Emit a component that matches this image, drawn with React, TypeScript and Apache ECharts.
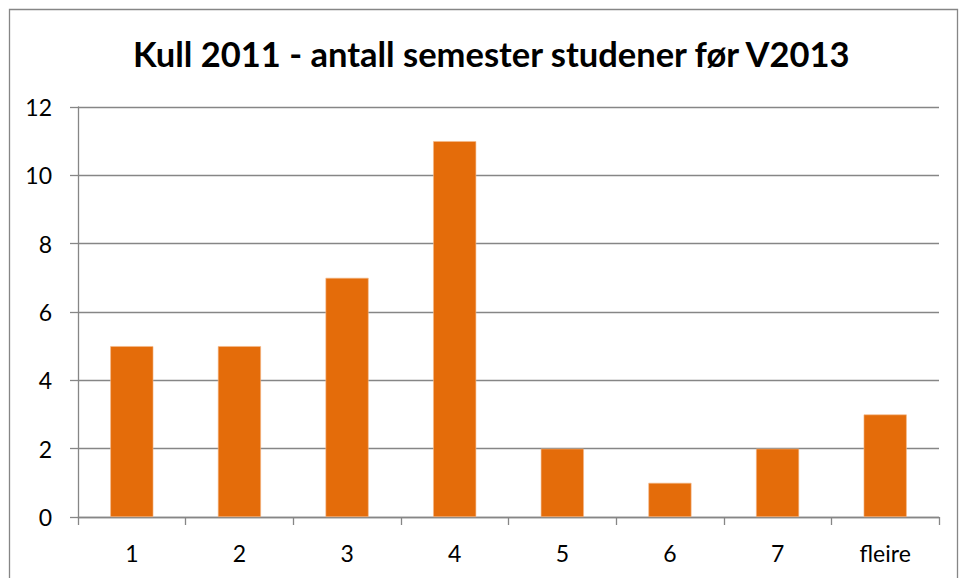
import React, { useEffect, useRef } from "react";
import * as echarts from "echarts";

const categories = ["1", "2", "3", "4", "5", "6", "7", "fleire"];
const values = [5, 5, 7, 11, 2, 1, 2, 3];
const titleText = "Kull 2011 - antall semester studener før V2013";

export default function App() {
  const ref = useRef<HTMLDivElement>(null);
  useEffect(() => {
    document.body.style.margin = "0";
    const chart = echarts.init(ref.current!, undefined, { renderer: "svg" });
    const font = "Lato, 'Open Sans', sans-serif";
    chart.setOption({
      animation: false,
      backgroundColor: "#ffffff",
      title: {
        text: titleText,
        left: 128,
        top: 31,
        textStyle: { fontFamily: font, fontSize: 34.5, fontWeight: "bold", color: "#000" },
      },
      graphic: [
        {
          type: "rect",
          shape: { x: 9.5, y: 9.5, width: 948, height: 600 },
          style: { fill: "none", stroke: "#868686", lineWidth: 1.3 },
          silent: true,
        },
      ],
      grid: { left: 78, right: 20, top: 107, bottom: 61 },
      xAxis: {
        type: "category",
        data: categories,
        axisLine: { lineStyle: { color: "#868686", width: 1.3 } },
        axisTick: { show: true, length: 8, lineStyle: { color: "#868686", width: 1.3 } },
        axisLabel: { color: "#000", fontFamily: font, fontSize: 23, margin: 24 },
      },
      yAxis: {
        type: "value",
        min: 0,
        max: 12,
        interval: 2,
        axisLine: { show: true, lineStyle: { color: "#868686", width: 1.3 } },
        axisTick: { show: true, length: 8, lineStyle: { color: "#868686", width: 1.3 } },
        axisLabel: { color: "#000", fontFamily: font, fontSize: 23, margin: 26 },
        splitLine: { lineStyle: { color: "#868686", width: 1.3 } },
      },
      series: [
        {
          type: "bar",
          data: values,
          barWidth: "40%",
          itemStyle: { color: "#E46C0A", borderColor: "#F5B98A", borderWidth: 0.6 },
        },
      ],
    });
    return () => chart.dispose();
  }, []);
  return <div ref={ref} style={{ width: 959, height: 578 }} />;
}
